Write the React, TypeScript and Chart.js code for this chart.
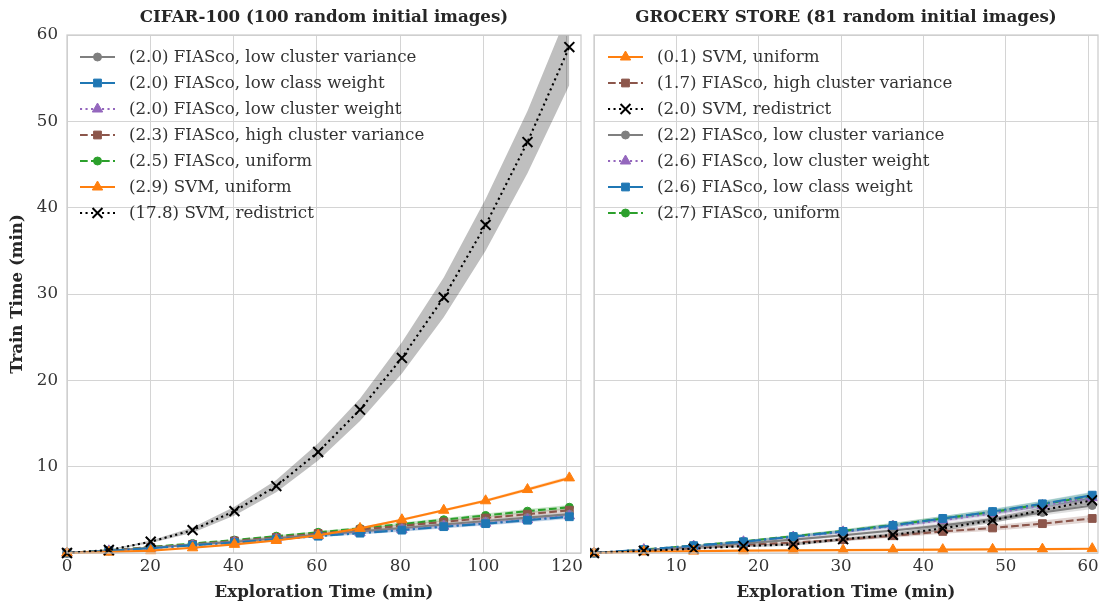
import React, { useEffect, useRef } from 'react';
import { Chart, registerables } from 'chart.js';
import { drawPoint } from 'chart.js/helpers';

Chart.register(...registerables);

const FONT = '"DejaVu Serif", serif';
const FS = 16.67;
const TEXT = '#333333';

// ---------------- CIFAR-100 ----------------
const cifarTitle = 'CIFAR-100 (100 random initial images)';
const cifarTime = [0, 10.05, 20.1, 30.15, 40.2, 50.25, 60.3, 70.35, 80.4, 90.45, 100.5, 110.55, 120.6];
const cifarLowClusterVariance = [0, 0.25, 0.6, 0.95, 1.3, 1.7, 2.1, 2.5, 2.9, 3.3, 3.7, 4.1, 4.5];
const cifarLowClassWeight = [0, 0.25, 0.55, 0.9, 1.2, 1.6, 1.95, 2.3, 2.65, 3.05, 3.4, 3.8, 4.2];
const cifarLowClusterWeight = [0, 0.25, 0.55, 0.9, 1.25, 1.6, 2.0, 2.35, 2.7, 3.1, 3.45, 3.85, 4.3];
const cifarHighClusterVariance = [0, 0.28, 0.65, 1.0, 1.4, 1.8, 2.25, 2.7, 3.15, 3.6, 4.05, 4.5, 4.95];
const cifarFiascoUniform = [0, 0.3, 0.7, 1.1, 1.5, 1.95, 2.4, 2.85, 3.35, 3.85, 4.35, 4.85, 5.3];
const cifarSvmUniform = [0, 0.1, 0.27, 0.6, 1.0, 1.45, 2.05, 2.85, 3.85, 4.95, 6.05, 7.35, 8.7];
const cifarSvmRedistrict = [0, 0.35, 1.3, 2.65, 4.85, 7.75, 11.7, 16.6, 22.6, 29.6, 38.0, 47.6, 58.6];
const cifarSmallSpread = [0, 0.03, 0.05, 0.08, 0.1, 0.12, 0.14, 0.16, 0.18, 0.2, 0.22, 0.24, 0.26];
const cifarSvmUniformSpread = [0, 0.02, 0.03, 0.05, 0.06, 0.08, 0.1, 0.12, 0.14, 0.16, 0.18, 0.2, 0.22];
const cifarSvmRedistrictSpread = [0, 0.05, 0.15, 0.3, 0.5, 0.7, 1.0, 1.3, 1.8, 2.3, 3.0, 3.6, 4.4];
const cifarLabels = [
  '(2.0) FIASco, low cluster variance',
  '(2.0) FIASco, low class weight',
  '(2.0) FIASco, low cluster weight',
  '(2.3) FIASco, high cluster variance',
  '(2.5) FIASco, uniform',
  '(2.9) SVM, uniform',
  '(17.8) SVM, redistrict',
];
const cifarXTicks = { min: 0, max: 123.4, step: 20 };

// ---------------- GROCERY STORE ----------------
const groceryTitle = 'GROCERY STORE (81 random initial images)';
const groceryTime = [0, 6.05, 12.1, 18.15, 24.2, 30.25, 36.3, 42.35, 48.4, 54.45, 60.5];
const grocerySvmUniform = [0, 0.15, 0.22, 0.27, 0.3, 0.33, 0.36, 0.39, 0.42, 0.45, 0.5];
const groceryHighClusterVariance = [0, 0.25, 0.55, 0.95, 1.2, 1.55, 2.0, 2.5, 2.9, 3.4, 4.0];
const grocerySvmRedistrict = [0, 0.25, 0.5, 0.8, 1.0, 1.6, 2.1, 2.85, 3.8, 4.95, 6.1];
const groceryLowClusterVariance = [0, 0.35, 0.7, 1.1, 1.55, 2.05, 2.6, 3.2, 3.9, 4.7, 5.5];
const groceryLowClusterWeight = [0, 0.4, 0.8, 1.3, 1.85, 2.45, 3.1, 3.8, 4.6, 5.5, 6.4];
const groceryLowClassWeight = [0, 0.4, 0.85, 1.3, 1.9, 2.5, 3.2, 4.0, 4.8, 5.7, 6.7];
const groceryFiascoUniform = [0, 0.4, 0.85, 1.35, 1.95, 2.55, 3.25, 4.0, 4.75, 5.65, 6.6];
const grocerySmallSpread = [0, 0.04, 0.08, 0.12, 0.16, 0.2, 0.24, 0.28, 0.32, 0.36, 0.4];
const groceryTinySpread = [0, 0.01, 0.02, 0.02, 0.03, 0.03, 0.04, 0.04, 0.05, 0.05, 0.06];
const groceryLabels = [
  '(0.1) SVM, uniform',
  '(1.7) FIASco, high cluster variance',
  '(2.0) SVM, redistrict',
  '(2.2) FIASco, low cluster variance',
  '(2.6) FIASco, low cluster weight',
  '(2.6) FIASco, low class weight',
  '(2.7) FIASco, uniform',
];
const groceryXTicks = { min: 0, max: 61.2, step: 10 };

const yTicks = { min: 0, max: 60, step: 10 };

type Style = {
  color: string;
  band: string;
  dash: number[];
  marker: string;
  radius: number;
  border: number;
  z: number;
};

const STYLES: Record<string, Style> = {
  uniform: { color: '#2ca02c', band: 'rgba(44,160,44,0.25)', dash: [7.7, 3.3], marker: 'circle', radius: 4, border: 1, z: 0 },
  highVar: { color: '#8c564b', band: 'rgba(140,86,75,0.25)', dash: [7.7, 3.3], marker: 'rect', radius: 5.5, border: 1, z: 1 },
  lowVar: { color: '#7f7f7f', band: 'rgba(127,127,127,0.25)', dash: [], marker: 'circle', radius: 4, border: 1, z: 2 },
  lowClusterW: { color: '#9467bd', band: 'rgba(148,103,189,0.25)', dash: [2.1, 3.4], marker: 'triangle', radius: 6, border: 1, z: 3 },
  lowClassW: { color: '#1f77b4', band: 'rgba(31,119,180,0.25)', dash: [13.3, 3.3, 2.1, 3.3], marker: 'rect', radius: 5.5, border: 1, z: 4 },
  svmUniform: { color: '#ff7f0e', band: 'rgba(255,127,14,0.25)', dash: [], marker: 'triangle', radius: 6, border: 1, z: 5 },
  svmRedistrict: { color: '#000000', band: 'rgba(0,0,0,0.25)', dash: [2.1, 3.4], marker: 'crossRot', radius: 7, border: 2, z: 6 },
};

type Series = { label: string; key: string; values: number[]; spread: number[] };

const cifarSeries: Series[] = [
  { label: cifarLabels[0], key: 'lowVar', values: cifarLowClusterVariance, spread: cifarSmallSpread },
  { label: cifarLabels[1], key: 'lowClassW', values: cifarLowClassWeight, spread: cifarSmallSpread },
  { label: cifarLabels[2], key: 'lowClusterW', values: cifarLowClusterWeight, spread: cifarSmallSpread },
  { label: cifarLabels[3], key: 'highVar', values: cifarHighClusterVariance, spread: cifarSmallSpread },
  { label: cifarLabels[4], key: 'uniform', values: cifarFiascoUniform, spread: cifarSmallSpread },
  { label: cifarLabels[5], key: 'svmUniform', values: cifarSvmUniform, spread: cifarSvmUniformSpread },
  { label: cifarLabels[6], key: 'svmRedistrict', values: cifarSvmRedistrict, spread: cifarSvmRedistrictSpread },
];

const grocerySeries: Series[] = [
  { label: groceryLabels[0], key: 'svmUniform', values: grocerySvmUniform, spread: groceryTinySpread },
  { label: groceryLabels[1], key: 'highVar', values: groceryHighClusterVariance, spread: grocerySmallSpread },
  { label: groceryLabels[2], key: 'svmRedistrict', values: grocerySvmRedistrict, spread: grocerySmallSpread },
  { label: groceryLabels[3], key: 'lowVar', values: groceryLowClusterVariance, spread: grocerySmallSpread },
  { label: groceryLabels[4], key: 'lowClusterW', values: groceryLowClusterWeight, spread: grocerySmallSpread },
  { label: groceryLabels[5], key: 'lowClassW', values: groceryLowClassWeight, spread: grocerySmallSpread },
  { label: groceryLabels[6], key: 'uniform', values: groceryFiascoUniform, spread: grocerySmallSpread },
];

function makeConfig(
  title: string,
  xs: number[],
  series: Series[],
  xt: { min: number; max: number; step: number },
  isLeft: boolean,
  legendX: number
): any {
  const datasets: any[] = [];
  const sorted = series.slice().sort((a, b) => STYLES[a.key].z - STYLES[b.key].z);
  sorted.forEach((s) => {
    const st = STYLES[s.key];
    datasets.push({
      label: s.label + ' upper',
      data: xs.map((x, k) => ({ x, y: s.values[k] + s.spread[k] })),
      borderWidth: 0,
      pointRadius: 0,
      backgroundColor: st.band,
      fill: '+1',
      order: 100 + (10 - st.z),
    });
    datasets.push({
      label: s.label + ' lower',
      data: xs.map((x, k) => ({ x, y: s.values[k] - s.spread[k] })),
      borderWidth: 0,
      pointRadius: 0,
      backgroundColor: st.band,
      fill: false,
      order: 100 + (10 - st.z),
    });
  });
  sorted.forEach((s) => {
    const st = STYLES[s.key];
    datasets.push({
      label: s.label,
      data: xs.map((x, k) => ({ x, y: s.values[k] })),
      borderColor: st.color,
      backgroundColor: st.color,
      borderWidth: 2.1,
      borderDash: st.dash,
      borderCapStyle: 'butt',
      pointStyle: st.marker,
      pointRadius: st.radius,
      pointBorderWidth: st.border,
      pointBackgroundColor: st.color,
      pointBorderColor: st.color,
      fill: false,
      tension: 0,
      clip: false,
      order: 10 - st.z,
    });
  });

  const decor = {
    id: 'decor',
    afterDraw(chart: any) {
      const { ctx, chartArea: a } = chart;
      ctx.save();
      ctx.setLineDash([]);
      ctx.strokeStyle = '#cccccc';
      ctx.lineWidth = 1.25;
      ctx.strokeRect(a.left, a.top, a.right - a.left, a.bottom - a.top);
      ctx.fillStyle = '#262626';
      ctx.font = `bold ${FS}px ${FONT}`;
      ctx.textAlign = 'center';
      ctx.textBaseline = 'middle';
      ctx.fillText(title, (a.left + a.right) / 2, 18);
      series.forEach((s, i) => {
        const st = STYLES[s.key];
        const y = a.top + 22 + i * 26;
        const x0 = a.left + legendX;
        ctx.save();
        ctx.strokeStyle = st.color;
        ctx.lineWidth = 2.1;
        ctx.lineCap = 'butt';
        ctx.setLineDash(st.dash);
        ctx.beginPath();
        ctx.moveTo(x0, y);
        ctx.lineTo(x0 + 35, y);
        ctx.stroke();
        ctx.setLineDash([]);
        ctx.fillStyle = st.color;
        ctx.strokeStyle = st.color;
        ctx.lineWidth = st.border;
        drawPoint(ctx, { pointStyle: st.marker as any, radius: st.radius, rotation: 0, borderWidth: st.border }, x0 + 17.5, y);
        ctx.restore();
        ctx.fillStyle = TEXT;
        ctx.font = `${FS}px ${FONT}`;
        ctx.textAlign = 'left';
        ctx.textBaseline = 'middle';
        ctx.fillText(s.label, x0 + 49, y + 1);
      });
      ctx.restore();
    },
  };

  return {
    type: 'line',
    data: { datasets },
    plugins: [decor],
    options: {
      animation: false,
      responsive: false,
      events: [],
      layout: { autoPadding: false, padding: { top: 35, right: isLeft ? 9 : 1, bottom: 0, left: 0 } },
      plugins: { legend: { display: false }, tooltip: { enabled: false } },
      scales: {
        x: {
          type: 'linear',
          min: xt.min,
          max: xt.max,
          afterFit: (sc: any) => {
            sc.height = 50;
            sc.paddingLeft = 0;
            sc.paddingRight = 0;
          },
          ticks: {
            stepSize: xt.step,
            includeBounds: false,
            padding: 4,
            color: TEXT,
            font: { family: FONT, size: FS },
            maxRotation: 0,
            autoSkip: false,
            callback: (v: number) => (isLeft || v !== 0 ? String(v) : ''),
          },
          grid: { color: '#d4d4d4', lineWidth: 1, drawTicks: false },
          border: { display: false },
          title: {
            display: true,
            text: 'Exploration Time (min)',
            color: '#262626',
            font: { family: FONT, size: FS, weight: 'bold' },
            padding: { top: 0, bottom: 0 },
          },
        },
        y: {
          type: 'linear',
          min: yTicks.min,
          max: yTicks.max,
          afterFit: (sc: any) => {
            sc.width = isLeft ? 67 : 4;
            sc.paddingTop = 0;
            sc.paddingBottom = 0;
          },
          ticks: {
            display: isLeft,
            stepSize: yTicks.step,
            padding: 9,
            color: TEXT,
            font: { family: FONT, size: FS },
            callback: (v: number) => (v === 0 ? '' : String(v)),
          },
          grid: { color: '#d4d4d4', lineWidth: 1, drawTicks: false },
          border: { display: false },
          title: {
            display: isLeft,
            text: 'Train Time (min)',
            color: '#262626',
            font: { family: FONT, size: FS, weight: 'bold' },
            padding: { top: 8, bottom: 0 },
          },
        },
      },
    },
  };
}

function ChartCanvas(props: { width: number; height: number; config: () => any }) {
  const ref = useRef<HTMLCanvasElement | null>(null);
  useEffect(() => {
    if (!ref.current) return;
    const chart = new Chart(ref.current, props.config());
    return () => chart.destroy();
  }, []);
  return <canvas ref={ref} width={props.width} height={props.height} style={{ display: 'block' }} />;
}

export default function App() {
  return (
    <div style={{ position: 'fixed', left: 0, top: 0, width: 1099, height: 603, background: '#ffffff', overflow: 'hidden' }}>
      <div style={{ position: 'absolute', left: 0, top: 0 }}>
        <ChartCanvas
          width={590}
          height={603}
          config={() => makeConfig(cifarTitle, cifarTime, cifarSeries, cifarXTicks, true, 13)}
        />
      </div>
      <div style={{ position: 'absolute', left: 590, top: 0 }}>
        <ChartCanvas
          width={509}
          height={603}
          config={() => makeConfig(groceryTitle, groceryTime, grocerySeries, groceryXTicks, false, 14)}
        />
      </div>
    </div>
  );
}
